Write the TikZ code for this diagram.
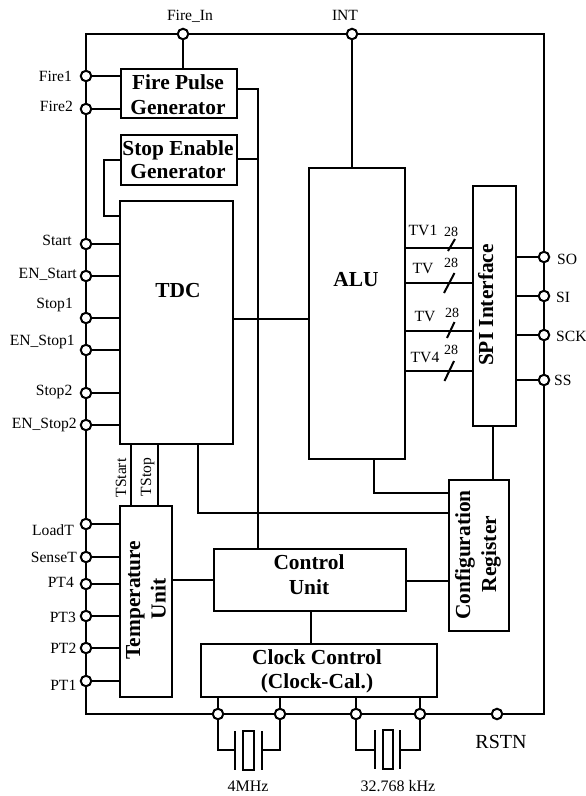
\documentclass[tikz,border=0pt]{standalone}
\usepackage{fontspec}
\setmainfont{Liberation Serif}
\tikzset{
  conn/.style={line width=2pt,line join=miter},
  blockbox/.style={draw,line width=2pt,fill=none,inner sep=0pt,anchor=north west},
  pin/.style={circle,draw,fill=white,line width=2pt,minimum size=10.5pt,inner sep=0pt},
  lab/.style={font=\fontsize{15.6}{17}\selectfont,inner sep=0pt,anchor=base},
  lableft/.style={lab,anchor=base east},
  labright/.style={lab,anchor=base west},
  small/.style={font=\fontsize{14}{15}\selectfont,inner sep=0pt,anchor=base},
  big/.style={font=\fontsize{21.4}{24}\selectfont\bfseries,inner sep=0pt,anchor=base},
}
\newcommand{\blockat}[5]{\node[blockbox,minimum width=#4pt,minimum height=#5pt] (#1) at (#2,#3) {};}
\begin{document}
\begin{tikzpicture}[x=1pt,y=-1pt]
\useasboundingbox (0,0) rectangle (586,796);
% blocks
\blockat{fp}{120}{68}{116}{49}
\blockat{se}{120}{134}{116}{50}
\blockat{tdc}{119}{200}{113}{243}
\blockat{alu}{308}{167}{96}{291}
\blockat{spi}{472}{185}{43}{240}
\blockat{cfg}{448}{479}{60}{151}
\blockat{tmp}{119}{505}{52}{191}
\blockat{ctl}{213}{548}{192}{62}
\blockat{clk}{200}{643}{236}{53}
% outer ring corners
\coordinate (tl) at (86,34);
\coordinate (tr) at (544,34);
\coordinate (br) at (544,714);
\coordinate (bl) at (86,714);
\draw[conn] (tl) -- (tr) -- (br) -- (bl) -- cycle;
% free junctions
\coordinate (busn) at (258,89);
\coordinate (buss) at (258,159);
\coordinate (cfgleft) at (198,513);
\coordinate (alucfg) at (374,493);
\coordinate (sekink) at (104,160);
\coordinate (sekinkb) at (104,216);
% pins
\foreach \n/\x/\y in {firein/183/34,int/352/34,
  fire1/86/76,fire2/86/109,start/86/244,enstart/86/276,stopa/86/318,enstopa/86/350,stopb/86/393,enstopb/86/425,
  loadt/86/524,senset/86/557,pta/86/584,ptb/86/616,ptc/86/648,ptd/86/681,
  so/544/257,si/544/296,sck/544/335,ss/544/380,
  xa/218/714,xb/280/714,xc/356/714,xd/420/714,rstn/497/714}
  \coordinate (\n) at (\x,\y);
% connectors
\draw[conn] (firein) -- (firein |- fp.north);
\draw[conn] (int) -- (int |- alu.north);
\foreach \p in {fire1,fire2} \draw[conn] (\p) -- (\p -| fp.west);
\foreach \p in {start,enstart,stopa,enstopa,stopb,enstopb} \draw[conn] (\p) -- (\p -| tdc.west);
\foreach \p in {loadt,senset,pta,ptb,ptc,ptd} \draw[conn] (\p) -- (\p -| tmp.west);
\foreach \p in {so,si,sck,ss} \draw[conn] (\p) -- (\p -| spi.east);
\foreach \p in {xa,xb,xc,xd} \draw[conn] (\p) -- (\p |- clk.south);
\draw[conn] (fp.east |- busn) -- (busn) -- (busn |- ctl.north);
\draw[conn] (se.east |- buss) -- (buss);
\draw[conn] (se.west |- sekink) -- (sekink) -- (sekinkb) -- (tdc.west |- sekinkb);
\coordinate (tdcalu) at (232,319);
\draw[conn] (tdcalu) -- (alu.west |- tdcalu);
\foreach \y in {248,283,331,371} \draw[conn] (alu.east |- 0,\y) -- (spi.west |- 0,\y);
\foreach \a/\b/\c/\d in {448/251/455/239,444/293/454.5/273,447/338/454.5/322,444.5/381/454/361}
  \draw[conn] (\a,\b) -- (\c,\d);
\draw[conn] (131,443) -- (131,505);
\draw[conn] (158,443) -- (158,505);
\draw[conn] (cfgleft |- tdc.south) -- (cfgleft) -- (cfg.west |- cfgleft);
\draw[conn] (alucfg |- alu.south) -- (alucfg) -- (cfg.west |- alucfg);
\draw[conn] (493,425) -- (493,479);
\draw[conn] (tmp.east |- 0,580) -- (ctl.west |- 0,580);
\draw[conn] (ctl.east |- 0,581) -- (cfg.west |- 0,581);
\draw[conn] (311,610) -- (311,643);
% crystals
\draw[conn] (xa) -- (218,750) -- (235,750);
\draw[conn] (235,731) -- (235,770);
\draw[conn] (243,731) rectangle (254,770);
\draw[conn] (262,731) -- (262,770);
\draw[conn] (262,750) -- (280,750) -- (xb);
\draw[conn] (xc) -- (356,750) -- (375,750);
\draw[conn] (375,730) -- (375,769);
\draw[conn] (383,730) rectangle (393,769);
\draw[conn] (400,730) -- (400,769);
\draw[conn] (400,750) -- (420,750) -- (xd);
% pin circles
\foreach \n in {firein,int,fire1,fire2,start,enstart,stopa,enstopa,stopb,enstopb,
  loadt,senset,pta,ptb,ptc,ptd,so,si,sck,ss,xa,xb,xc,xd,rstn}
  \node[pin] (c\n) at (\n) {};
% block texts
\node[big] (t1) at (178,89) {Fire Pulse};
\node[big] (t2) at (178,114) {Generator};
\node[big] (t3) at (178,155) {Stop Enable};
\node[big] (t4) at (178,178) {Generator};
\node[big] (t5) at (178,297) {TDC};
\node[big] (t6) at (356,286.5) {ALU};
\node[big,rotate=90] (t7) at (493,305) {SPI Interface};
\node[big,rotate=90] (t8) at (140,600) {Temperature};
\node[big,rotate=90] (t9) at (165.5,599) {Unit};
\node[big,rotate=90] (t10) at (470,555) {Configuration};
\node[big,rotate=90] (t11) at (496,554) {Register};
\node[big] (t12) at (309,569) {Control};
\node[big] (t13) at (309,594) {Unit};
\node[big] (t14) at (317,664) {Clock Control};
\node[big] (t15) at (317,688) {(Clock-Cal.)};
% pin labels
\node[lab] (l1) at (190,20) {Fire\_In};
\node[lab] (l2) at (345,20) {INT};
\node[lableft] (l3) at (72,81.5) {Fire1};
\node[lableft] (l4) at (73,111) {Fire2};
\node[lableft] (l5) at (72,245) {Start};
\node[lableft] (l6) at (77,278) {EN\_Start};
\node[lableft] (l7) at (73,308) {Stop1};
\node[lableft] (l8) at (75,345) {EN\_Stop1};
\node[lableft] (l9) at (72.5,395) {Stop2};
\node[lableft] (l10) at (77,428) {EN\_Stop2};
\node[lableft] (l11) at (74,535) {LoadT};
\node[lableft] (l12) at (77,562.5) {SenseT};
\node[lableft] (l13) at (74,587) {PT4};
\node[lableft] (l14) at (76,622) {PT3};
\node[lableft] (l15) at (76.5,653) {PT2};
\node[lableft] (l16) at (76.5,690) {PT1};
\node[labright] (l17) at (557,264) {SO};
\node[labright] (l18) at (556,302) {SI};
\node[labright] (l19) at (556,341) {SCK};
\node[labright] (l20) at (554,385) {SS};
\node[lab,font=\fontsize{20}{22}\selectfont] (l21) at (501,748) {RSTN};
\node[lab,font=\fontsize{16}{17}\selectfont] (l22) at (248,791) {4MHz};
\node[lab,font=\fontsize{16}{17}\selectfont] (l23) at (398,791) {32.768 kHz};
\node[lab,rotate=90] (l24) at (126,478) {TStart};
\node[lab,rotate=90] (l25) at (151,477) {TStop};
\node[lab] (l26) at (423,235) {TV1};
\node[lab] (l27) at (423,273) {TV};
\node[lab] (l28) at (425,321) {TV};
\node[lab] (l29) at (425,362) {TV4};
\node[small] (n1) at (451,236) {28};
\node[small] (n2) at (451,267) {28};
\node[small] (n3) at (452,317) {28};
\node[small] (n4) at (451,354) {28};
\end{tikzpicture}
\end{document}
